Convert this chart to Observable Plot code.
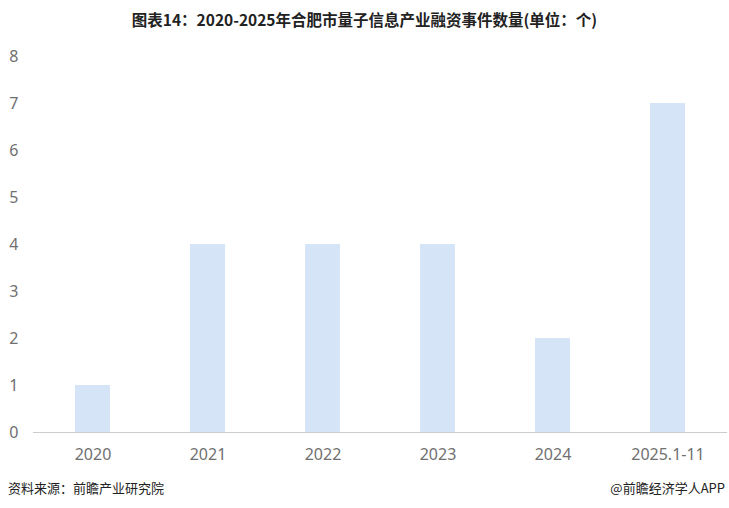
<!DOCTYPE html>
<html>
<head>
<meta charset="utf-8">
<script src="https://cdn.jsdelivr.net/npm/d3@7"></script>
<script src="https://cdn.jsdelivr.net/npm/@observablehq/plot@0.6"></script>
<style>
  body { margin: 0; background: #fff; font-family: "Noto Sans CJK SC", "Noto Sans", sans-serif; }
  #wrap { width: 729px; height: 508px; position: relative; }
  #title { height: 36px; line-height: 38px; text-align: center; font-weight: bold; font-size: 15.5px; color: #222; }
  #caption { position: absolute; left: 8px; right: 4px; top: 478px; font-size: 13px; color: #222; display: flex; justify-content: space-between; }
</style>
</head>
<body>
<div id="wrap">
  <div id="title">图表14：2020-2025年合肥市量子信息产业融资事件数量(单位：个)</div>
  <div id="chart"></div>
  <div id="caption"><span>资料来源：前瞻产业研究院</span><span>@前瞻经济学人APP</span></div>
</div>
<script>
const categories = ["2020", "2021", "2022", "2023", "2024", "2025.1-11"];
const values = [1, 4, 4, 4, 2, 7];
const yTicks = [0, 1, 2, 3, 4, 5, 6, 7, 8];

const data = categories.map((c, i) => ({category: c, value: values[i]}));

const chart = Plot.plot({
  width: 729,
  height: 436,
  marginTop: 20,
  marginBottom: 40,
  marginLeft: 33,
  marginRight: 2,
  style: {fontFamily: "'Noto Sans', sans-serif", fontSize: "16px", color: "#707070", background: "transparent"},
  x: {domain: categories, paddingInner: 0.7, paddingOuter: 0.35, label: null, tickSize: 0, tickPadding: 16},
  y: {domain: [0, 8], ticks: yTicks, label: null, tickSize: 0, tickPadding: 15},
  marks: [
    Plot.barY(data, {x: "category", y: "value", fill: "#d6e4f7"}),
    Plot.ruleY([0], {stroke: "#cccccc", strokeWidth: 1})
  ]
});
document.getElementById("chart").appendChild(chart);
</script>
</body>
</html>
